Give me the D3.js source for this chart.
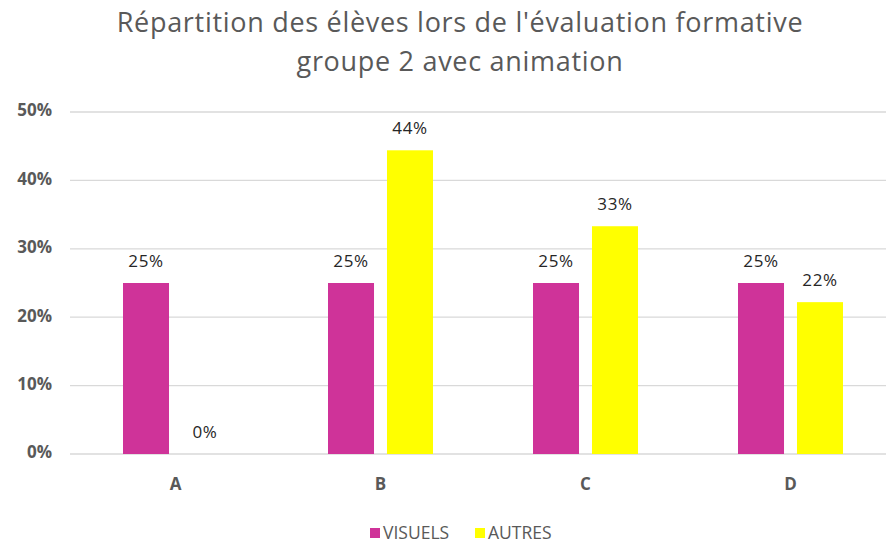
<!DOCTYPE html>
<html><head><meta charset="utf-8">
<script src="https://cdn.jsdelivr.net/npm/d3@7"></script>
<style>html,body{margin:0;padding:0;background:#fff;overflow:hidden}</style>
</head><body>
<svg id="c" width="886" height="544"></svg>
<script>
const categories = ["A", "B", "C", "D"];
const seriesNames = ["VISUELS", "AUTRES"];
const visuels = [0.25, 0.25, 0.25, 0.25];
const autres = [0, 0.444, 0.333, 0.222];
const yTicks = [0, 0.1, 0.2, 0.3, 0.4, 0.5];
const titleLines = ["Répartition des élèves lors de l'évaluation formative", "groupe 2 avec animation"];
const colors = ["#cf3399", "#ffff00"];

const svg = d3.select("#c");
const font = "'Open Sans', sans-serif";
const grey = "#595959";

const x = d3.scaleBand().domain(categories).range([73, 893]).paddingInner(0).paddingOuter(0);
const xs = d3.scaleBand().domain(seriesNames)
  .range([x.bandwidth()/2 - 52.5, x.bandwidth()/2 + 52.5]).paddingInner(0.22);
const y = d3.scaleLinear().domain([0, 0.5]).range([454, 112]);

// gridlines
svg.append("g").selectAll("line").data(yTicks).join("line")
  .attr("x1", 70).attr("x2", 893)
  .attr("y1", d => y(d)).attr("y2", d => y(d))
  .attr("stroke", "#d9d9d9").attr("stroke-width", 1.3);

// y axis labels
const yAxis = d3.axisLeft(y).tickValues(yTicks).tickFormat(d3.format(".0%")).tickSize(0).tickPadding(0);
const ya = svg.append("g").attr("transform", "translate(52,-2)").call(yAxis);
ya.select(".domain").remove();
ya.selectAll("text").attr("font-family", font).attr("font-size", 17).attr("font-weight", "bold")
  .attr("fill", grey).attr("dy", "0.35em");

// x axis labels
const xAxis = d3.axisBottom(x).tickSize(0).tickPadding(0);
const xa = svg.append("g").attr("transform", "translate(0,478)").call(xAxis);
xa.select(".domain").remove();
xa.selectAll("text").attr("font-family", font).attr("font-size", 17).attr("font-weight", "bold")
  .attr("fill", grey);

const data = categories.map((c, i) => ({cat: c, vals: [visuels[i], autres[i]]}));
const groups = svg.append("g").selectAll("g").data(data).join("g")
  .attr("transform", d => `translate(${x(d.cat)},0)`);

groups.selectAll("rect").data(d => d.vals.map((v, j) => ({s: seriesNames[j], v, j}))).join("rect")
  .attr("x", d => xs(d.s)).attr("width", xs.bandwidth())
  .attr("y", d => y(d.v)).attr("height", d => y(0) - y(d.v))
  .attr("fill", d => colors[d.j]);

groups.selectAll("text.lbl").data(d => d.vals.map((v, j) => ({s: seriesNames[j], v, j}))).join("text")
  .attr("class", "lbl")
  .attr("x", d => xs(d.s) + xs.bandwidth()/2).attr("y", d => y(d.v) - 16)
  .attr("text-anchor", "middle").attr("font-family", font).attr("font-size", 17)
  .attr("letter-spacing", 0.6)
  .attr("fill", "#262626").text(d => d3.format(".0%")(d.v));

// title
const t = svg.append("g");
titleLines.forEach((line, i) => {
  t.append("text").attr("x", 460).attr("y", 32 + i * 39)
    .attr("text-anchor", "middle").attr("font-family", font).attr("font-size", 27)
    .attr("letter-spacing", 0.7)
    .attr("fill", grey).text(line);
});

// legend
const leg = svg.append("g");
const legX = [370, 475];
seriesNames.forEach((s, i) => {
  leg.append("rect").attr("x", legX[i]).attr("y", 528).attr("width", 10).attr("height", 10).attr("fill", colors[i]);
  leg.append("text").attr("x", legX[i] + 13).attr("y", 539).attr("font-family", font)
    .attr("font-size", 17.5).attr("fill", grey).text(s);
});
</script>
</body></html>
